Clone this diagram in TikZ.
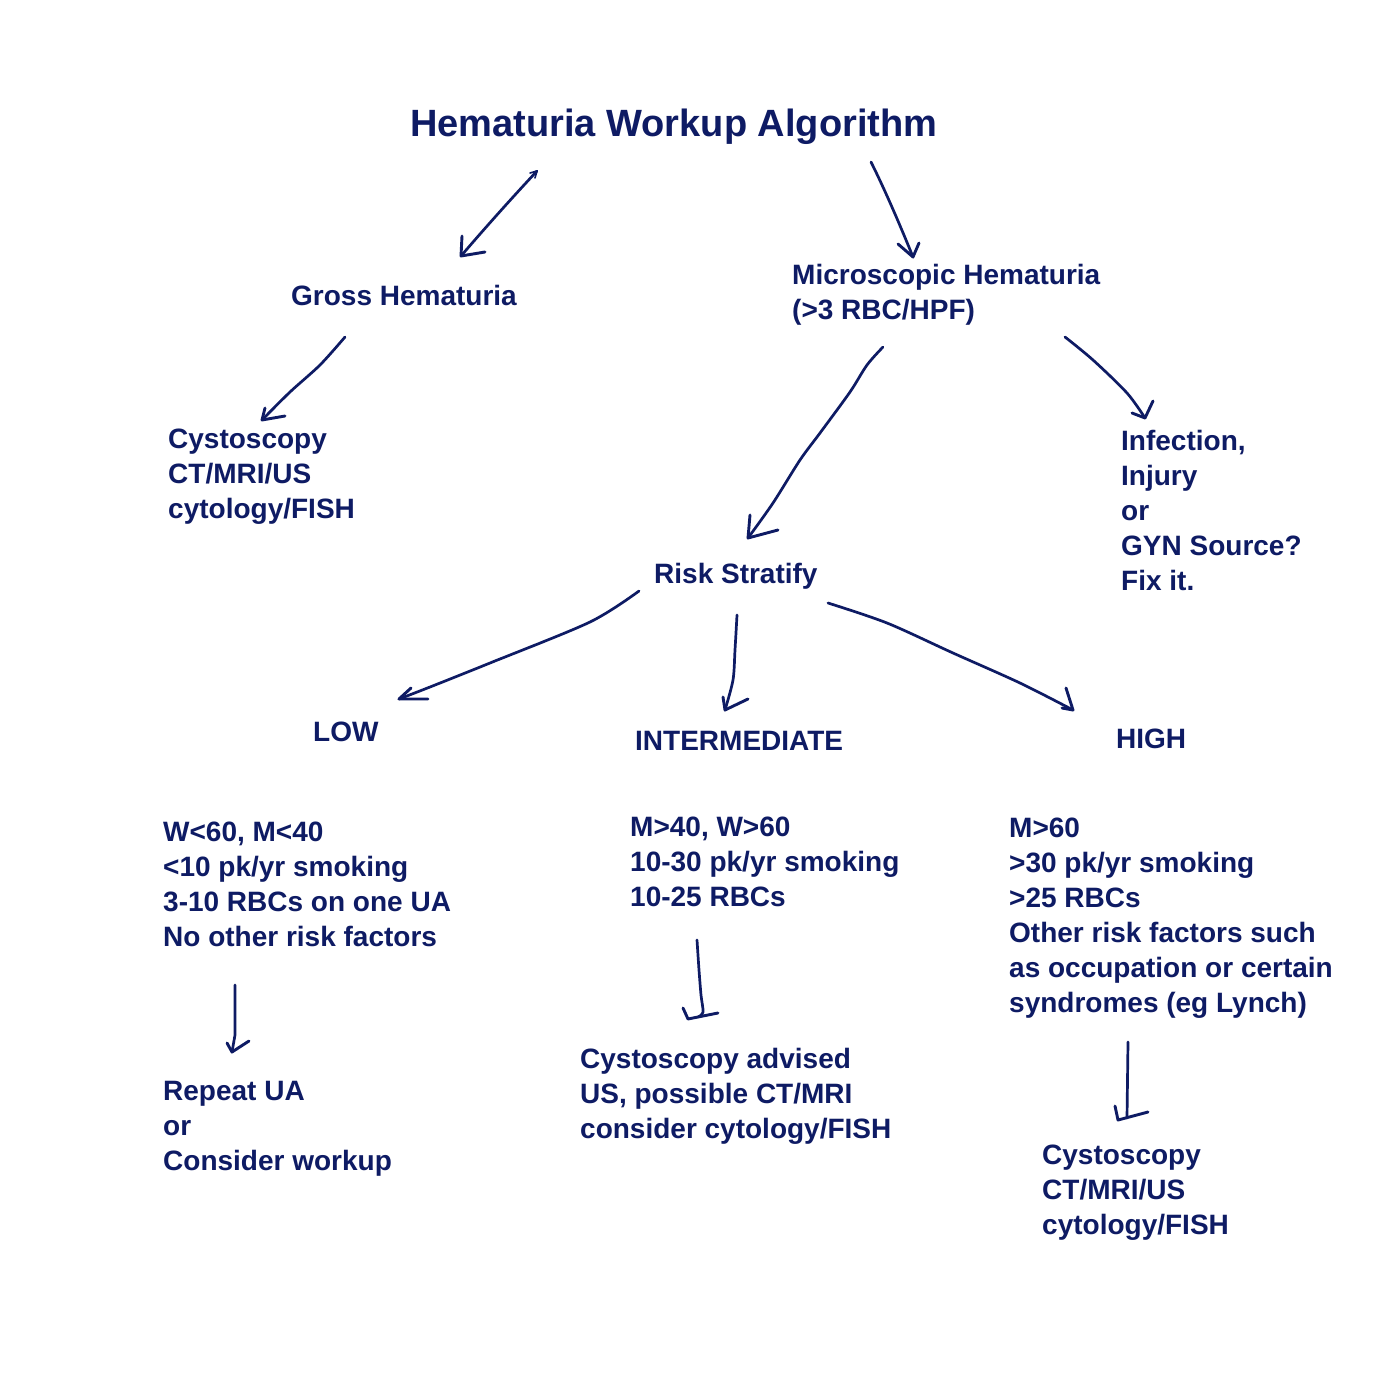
\documentclass[tikz,border=0pt]{standalone}
\usepackage{fontspec}
\setmainfont{Liberation Sans}
\definecolor{navy}{RGB}{14,27,100}
\begin{document}
\begin{tikzpicture}[x=1pt,y=-1pt,
  txt/.style={anchor=base west, inner sep=0pt, align=left, text=navy,
              font=\fontsize{28}{35}\selectfont\bfseries},
  ttl/.style={txt, font=\fontsize{38}{46}\selectfont\bfseries},
  conn/.style={draw=navy, line width=2.7pt, line cap=round, line join=round},
  tip/.style={draw=navy, line width=2.9pt, line cap=round, line join=round}]
\useasboundingbox[fill=white] (0,0) rectangle (1400,1400);

% texts (base anchor = baseline of the last line)
\node[ttl] (title) at (410,136) {Hematuria Workup Algorithm};
\node[txt] (gross) at (291,305) {Gross Hematuria};
\node[txt] (micro) at (792,319) {Microscopic Hematuria\\(>3 RBC/HPF)};
\node[txt] (grossw) at (168,518) {Cystoscopy\\CT/MRI/US\\cytology/FISH};
\node[txt] (infect) at (1121,590) {Infection,\\Injury\\or\\GYN Source?\\Fix it.};
\node[txt] (risk) at (654,583) {Risk Stratify};
\node[txt] (low) at (313,741) {LOW};
\node[txt] (inter) at (635,750) {INTERMEDIATE};
\node[txt] (high) at (1116,748) {HIGH};
\node[txt] (lowc) at (163,946) {W<60, M<40\\<10 pk/yr smoking\\3-10 RBCs on one UA\\No other risk factors};
\node[txt] (interc) at (630,906) {M>40, W>60\\10-30 pk/yr smoking\\10-25 RBCs};
\node[txt] (highc) at (1009,1012) {M>60\\>30 pk/yr smoking\\>25 RBCs\\Other risk factors such\\as occupation or certain\\syndromes (eg Lynch)};
\node[txt] (lowa) at (163,1170) {Repeat UA\\or\\Consider workup};
\node[txt] (intera) at (580,1138) {Cystoscopy advised\\US, possible CT/MRI\\consider cytology/FISH};
\node[txt] (higha) at (1042,1234) {Cystoscopy\\CT/MRI/US\\cytology/FISH};

% connector end points
\coordinate (a1s) at (537,171);  \coordinate (a1e) at (461,256);
\coordinate (a2s) at (871,162);  \coordinate (a2e) at (913,257);
\coordinate (a3s) at (345,337);  \coordinate (a3e) at (262,420);
\coordinate (a4s) at (883,347);  \coordinate (a4e) at (748,538);
\coordinate (a5s) at (1065,337); \coordinate (a5e) at (1145,418);
\coordinate (a6s) at (639,591);  \coordinate (a6e) at (399,699);
\coordinate (a7s) at (737,615);  \coordinate (a7e) at (725,710);
\coordinate (a8s) at (828,603);  \coordinate (a8e) at (1073,710);
\coordinate (a9s) at (235,985);  \coordinate (a9e) at (232,1052);
\coordinate (a10s) at (697,940); \coordinate (a10e) at (703,1012);
\coordinate (a11s) at (1128,1042); \coordinate (a11e) at (1127,1118);

% title -> gross
\draw[conn] (a1s) .. controls (510,200) and (485,228) .. (a1e);
\draw[tip] (a1e) ++(1,-20) -- (a1e) -- ++(24,-4);
\draw[conn, line width=1.6pt] (a1s) ++(-7,2) -- (a1s) -- ++(-2,7);
% title -> micro
\draw[conn] (a2s) .. controls (885,190) and (900,225) .. (a2e);
\draw[tip] (a2e) ++(-15,-13) -- (a2e) -- ++(6,-14);
% gross -> workup
\draw[conn] plot[smooth] coordinates {(a3s) (320,365) (290,392) (a3e)};
\draw[tip] (a3e) ++(3,-12) -- (a3e) -- ++(23,-4);
% micro -> risk
\draw[conn] plot[smooth] coordinates {(a4s) (867,365) (850,392) (820,433) (800,460) (773,503) (a4e)};
\draw[tip] (a4e) ++(2,-23) -- (a4e) -- ++(30,-8);
% micro -> infection
\draw[conn] plot[smooth] coordinates {(a5s) (1093,360) (1127,393) (a5e)};
\draw[tip] (a5e) ++(8,-17) -- (a5e) -- ++(-13,-5);
% risk -> low
\draw[conn] plot[smooth] coordinates {(a6s) (590,622) (490,663) (430,687) (a6e)};
\draw[tip] (a6e) ++(12,-11) -- (a6e) -- ++(29,0);
% risk -> intermediate
\draw[conn] plot[smooth] coordinates {(a7s) (735,650) (733,680) (a7e)};
\draw[tip] (a7e) ++(-2,-13) -- (a7e) -- ++(23,-11);
% risk -> high
\draw[conn] plot[smooth] coordinates {(a8s) (887,623) (953,653) (1020,683) (a8e)};
\draw[tip] (a8e) ++(-7,-22) -- (a8e) -- ++(-11,-2);
% low criteria -> action
\draw[conn] (a9s) -- (235,1035) -- (a9e);
\draw[tip] (a9e) ++(-5,-9) -- (a9e) -- ++(17,-11);
% intermediate criteria -> action
\draw[conn] plot[smooth] coordinates {(a10s) (699,970) (701,995) (a10e) (698,1017)};
\draw[tip] (683,1008) -- (688,1019) -- (718,1013);
% high criteria -> action
\draw[conn] (a11s) -- (a11e);
\draw[tip] (1115,1106) -- (1118,1120) -- (1148,1112);
\end{tikzpicture}
\end{document}
